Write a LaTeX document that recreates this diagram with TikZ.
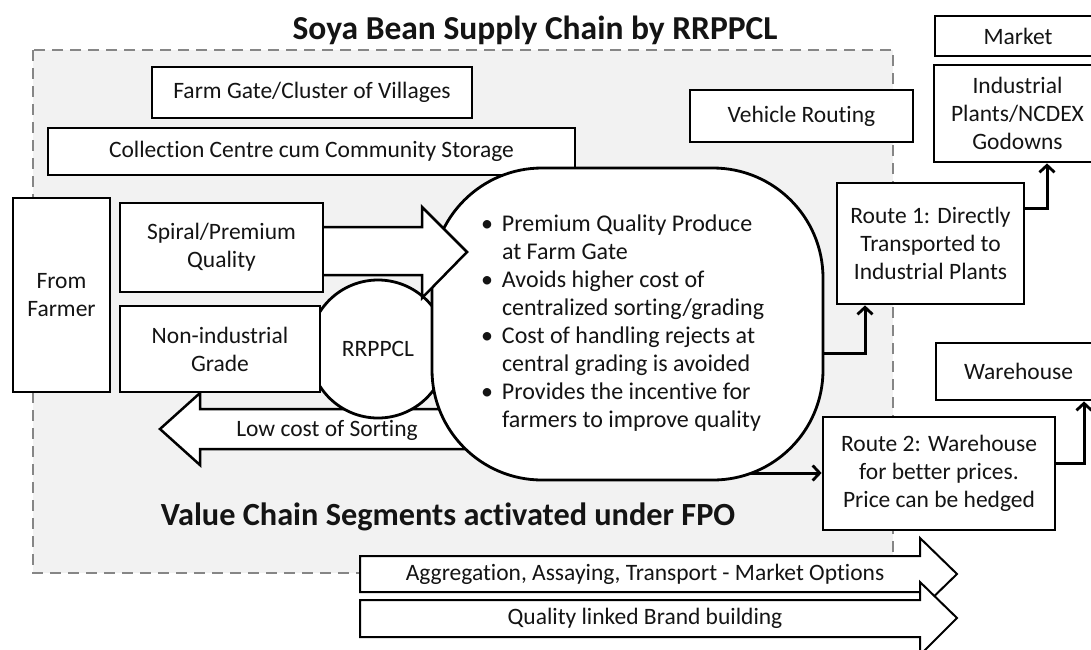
\documentclass[tikz,border=0pt]{standalone}
\usepackage{fontspec}
\setmainfont{Carlito}[Ligatures=NoCommon]
\usepackage{array}
\usetikzlibrary{arrows.meta}
\definecolor{regfill}{HTML}{F2F2F2}
\definecolor{dashc}{HTML}{868686}
\definecolor{txt}{HTML}{141414}
\begin{document}
\begin{tikzpicture}[x=1pt,y=-1pt,
  box/.style={draw=black, line width=2.8pt, fill=white, inner sep=0pt, align=center, text=txt,
              font=\fontsize{23.5}{28}\selectfont},
  conn/.style={line width=3pt, -{Straight Barb[length=7pt,width=15pt,line width=2.8pt]}},
  barrow/.style={draw=black, line width=2.5pt, fill=white, line join=miter},
  lbl/.style={inner sep=0pt, text=txt, font=\fontsize{23.5}{28}\selectfont},
  ttl/.style={inner sep=0pt, text=txt, font=\fontsize{33.5}{38}\selectfont\bfseries},
]
\useasboundingbox (0,0) rectangle (1091,649);
\fill[white] (0,0) rectangle (1091,649);

% shaded FPO region
\draw[fill=regfill, draw=dashc, line width=2.6pt, dash pattern=on 11pt off 7pt] (33,50) rectangle (893,573);

\node[ttl] (title) at (535,30) {Soya Bean Supply Chain by RRPPCL};
\node[ttl, font=\fontsize{32.3}{38}\selectfont\bfseries] (fpo) at (448,517) {Value Chain Segments activated under FPO};

% low cost arrow (behind circle and bubble)
\draw[barrow] (480,409) -- (200,409) -- (200,393) -- (160,429) -- (200,465) -- (200,449) -- (480,449) -- cycle;
\node[lbl] (lowcost) at (327,430) {Low cost of Sorting};

% RRPPCL circle
\node[box, circle, minimum size=138pt] (rr) at (378,349) {RRPPCL};

% boxes on the left
\node[box, minimum width=320pt, minimum height=51pt] (farm) at (312,92.5) {Farm Gate/Cluster of Villages};
\node[box, minimum width=527pt, minimum height=47pt] (coll) at (311.5,151.5) {Collection Centre cum Community Storage};
\node[box, minimum width=97pt, minimum height=194pt] (from) at (61.5,295) {From\\Farmer};
\node[box, minimum width=200pt, minimum height=86pt] (nonind) at (220,349) {Non-industrial\\Grade};

% right boxes
\node[box, minimum width=223pt, minimum height=52pt] (veh) at (801.5,116) {Vehicle Routing};
\node[box, minimum width=166pt, minimum height=40pt] (mkt) at (1018,36) {Market};
\node[box, minimum width=167pt, minimum height=97pt] (ind) at (1017.5,113.5) {Industrial\\Plants/NCDEX\\Godowns};
\node[box, minimum width=187pt, minimum height=121pt] (r1) at (930.5,243.5) {Route 1: Directly\\Transported to\\Industrial Plants};
\node[box, minimum width=165pt, minimum height=57pt] (wh) at (1018.5,371.5) {Warehouse};
\node[box, minimum width=232pt, minimum height=113pt] (r2) at (939,473.5) {Route 2: Warehouse\\for better prices.\\Price can be hedged};

% connector to route 2 starts inside the bubble (hidden under it)
\coordinate (a4) at (740,473);
\draw[conn] (a4) -- (r2.west |- a4);

% bubble
\node[draw=black, line width=2.8pt, fill=white, rounded corners=110pt, minimum width=391pt, minimum height=312pt,
      inner sep=0pt, text=txt, font=\fontsize{24}{28}\selectfont] (rb) at (627.5,324)
 {\begin{tabular}{@{}>{\raggedright\arraybackslash}p{21pt}@{}>{\raggedright\arraybackslash}p{272pt}@{}}
  \textbullet & Premium Quality Produce\newline at Farm Gate\\[4pt]
  \textbullet & Avoids higher cost of\newline centralized sorting/grading\\[4pt]
  \textbullet & Cost of handling rejects at\newline central grading is avoided\\[4pt]
  \textbullet & Provides the incentive for\newline farmers to improve quality
  \end{tabular}};

% premium arrow (over bubble), then spiral box over its tail
\draw[barrow] (300,227) -- (422,227) -- (422,207) -- (467,252) -- (422,298) -- (422,275) -- (300,275) -- cycle;
\node[box, minimum width=203pt, minimum height=89pt] (spiral) at (221.5,247.5) {Spiral/Premium\\Quality};

% connectors
\coordinate (a3) at (865,353);
\draw[conn] (rb.east |- a3) -| (a3 |- r1.south);
\coordinate (a1) at (1047,208);
\draw[conn] (r1.east |- a1) -| (a1 |- ind.south);
\coordinate (a2) at (1084,463);
\draw[conn] (r2.east |- a2) -| (a2 |- wh.south);

% bottom block arrows
\draw[barrow, line width=2pt] (360,556) -- (920,556) -- (920,538) -- (957,574) -- (920,610) -- (920,592) -- (360,592) -- cycle;
\node[lbl] (agg) at (645,574) {Aggregation, Assaying, Transport - Market Options};
\draw[barrow, line width=2pt] (360,600) -- (920,600) -- (920,582) -- (957,618) -- (920,655) -- (920,637) -- (360,637) -- cycle;
\node[lbl] (brand) at (645,618) {Quality linked Brand building};
\end{tikzpicture}
\end{document}
